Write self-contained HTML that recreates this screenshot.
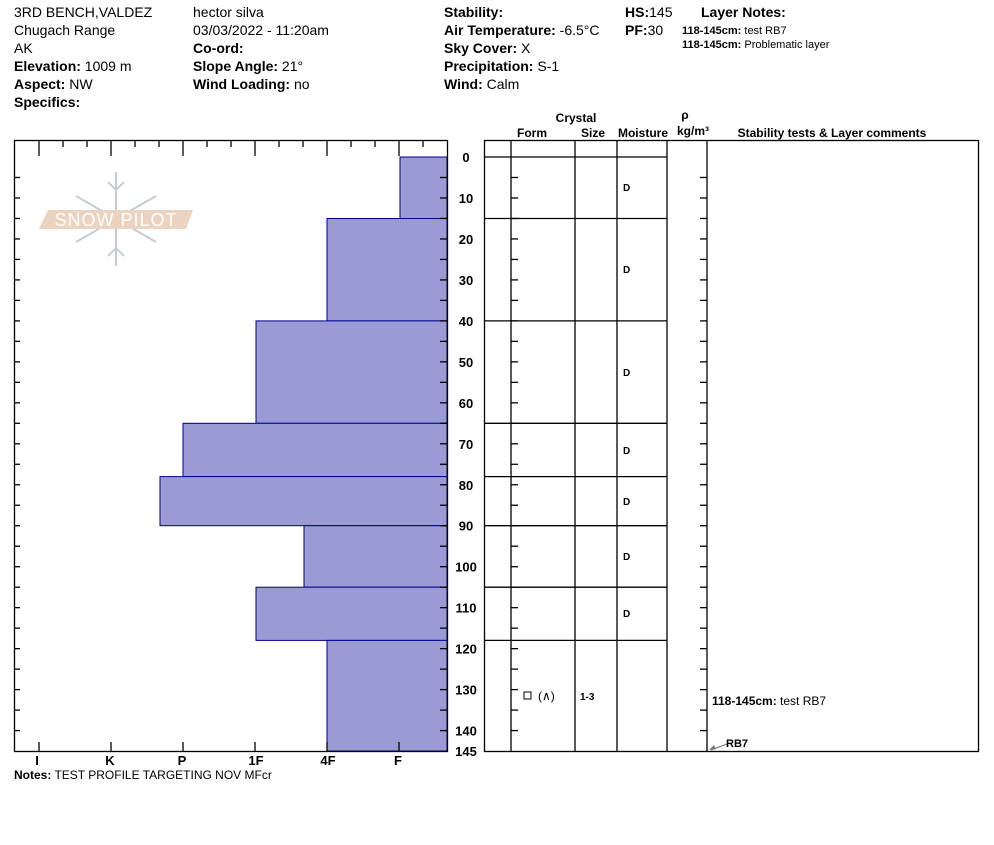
<!DOCTYPE html>
<html><head><meta charset="utf-8"><style>
body{margin:0;background:#fff;width:994px;height:840px;overflow:hidden}
svg text{font-family:"Liberation Sans",Arial,sans-serif}
.b{font-weight:bold}
</style></head><body>
<svg width="994" height="840" xmlns="http://www.w3.org/2000/svg">
<g font-size="14" fill="#000">
<text x="14" y="17">3RD BENCH,VALDEZ</text>
<text x="14" y="35">Chugach Range</text>
<text x="14" y="53">AK</text>
<text x="14" y="71"><tspan class="b">Elevation:</tspan> 1009 m</text>
<text x="14" y="89"><tspan class="b">Aspect:</tspan> NW</text>
<text x="14" y="107" class="b">Specifics:</text>
<text x="193" y="17">hector silva</text>
<text x="193" y="35">03/03/2022 - 11:20am</text>
<text x="193" y="53" class="b">Co-ord:</text>
<text x="193" y="71"><tspan class="b">Slope Angle:</tspan> 21°</text>
<text x="193" y="89"><tspan class="b">Wind Loading:</tspan> no</text>
<text x="444" y="17" class="b">Stability:</text>
<text x="444" y="35"><tspan class="b">Air Temperature:</tspan> -6.5°C</text>
<text x="444" y="53"><tspan class="b">Sky Cover:</tspan> X</text>
<text x="444" y="71"><tspan class="b">Precipitation:</tspan> S-1</text>
<text x="444" y="89"><tspan class="b">Wind:</tspan>  Calm</text>
<text x="625" y="17"><tspan class="b">HS:</tspan>145</text>
<text x="625" y="35"><tspan class="b">PF:</tspan>30</text>
<text x="701" y="17" class="b">Layer Notes:</text>
</g>
<text x="682" y="34" font-size="11"><tspan class="b">118-145cm:</tspan> test RB7</text>
<text x="682" y="48" font-size="11"><tspan class="b">118-145cm:</tspan> Problematic layer</text>

<!-- logo -->
<g stroke="#c4ccd4" stroke-width="2" fill="none">
<line x1="116" y1="172" x2="116" y2="266"/>
<line x1="76" y1="196" x2="156" y2="242"/>
<line x1="76" y1="242" x2="156" y2="196"/>
<polyline points="108,182 116,190 124,182"/>
<polyline points="108,256 116,248 124,256"/>
</g>
<polygon points="48,210 193,210 186,229 39,229" fill="#ecd3bf"/>
<text x="116" y="226" font-size="18" fill="#fff" text-anchor="middle" letter-spacing="1">SNOW PILOT</text>

<!-- bars -->
<g fill="#9a9ad4" stroke="#00008b" stroke-width="1">
<rect x="400" y="157" width="47" height="61.5"/>
<rect x="327" y="218.5" width="120" height="102.4"/>
<rect x="256" y="320.9" width="191" height="102.4"/>
<rect x="183" y="423.3" width="264" height="53.3"/>
<rect x="160" y="476.6" width="287" height="49.1"/>
<rect x="304" y="525.7" width="143" height="61.5"/>
<rect x="256" y="587.2" width="191" height="53.2"/>
<rect x="327" y="640.4" width="120" height="110.6"/>
</g>
<rect x="14.5" y="140.5" width="433" height="611" fill="none" stroke="#000" stroke-width="1.3"/>
<g stroke="#000" stroke-width="1.3">
<line x1="39" y1="140" x2="39" y2="156"/><line x1="111" y1="140" x2="111" y2="156"/><line x1="183" y1="140" x2="183" y2="156"/><line x1="255" y1="140" x2="255" y2="156"/><line x1="327" y1="140" x2="327" y2="156"/><line x1="399" y1="140" x2="399" y2="156"/>
<line x1="63" y1="140" x2="63" y2="147"/><line x1="87" y1="140" x2="87" y2="147"/><line x1="135" y1="140" x2="135" y2="147"/><line x1="159" y1="140" x2="159" y2="147"/><line x1="207" y1="140" x2="207" y2="147"/><line x1="231" y1="140" x2="231" y2="147"/><line x1="279" y1="140" x2="279" y2="147"/><line x1="303" y1="140" x2="303" y2="147"/><line x1="351" y1="140" x2="351" y2="147"/><line x1="375" y1="140" x2="375" y2="147"/><line x1="423" y1="140" x2="423" y2="147"/>
<line x1="39" y1="751" x2="39" y2="742"/><line x1="111" y1="751" x2="111" y2="742"/><line x1="183" y1="751" x2="183" y2="742"/><line x1="255" y1="751" x2="255" y2="742"/><line x1="327" y1="751" x2="327" y2="742"/><line x1="399" y1="751" x2="399" y2="742"/>
</g>
<g stroke="#000" stroke-width="1.3" id="dt"></g>
<g font-size="13" font-weight="bold" text-anchor="middle">
<text x="37" y="765">I</text><text x="110" y="765">K</text><text x="182" y="765">P</text><text x="256" y="765">1F</text><text x="328" y="765">4F</text><text x="398" y="765">F</text>
</g>
<text x="14" y="779" font-size="12"><tspan class="b">Notes:</tspan> TEST PROFILE TARGETING NOV MFcr</text>

<!-- right panel -->
<g font-size="12" font-weight="bold" text-anchor="middle">
<text x="576" y="122">Crystal</text>
<text x="532" y="137">Form</text><text x="593" y="137">Size</text><text x="643" y="137">Moisture</text>
<text x="685" y="119">ρ</text><text x="693" y="135">kg/m³</text>
<text x="832" y="137">Stability tests &amp; Layer comments</text>
</g>
<rect x="484.5" y="140.5" width="494" height="611" fill="none" stroke="#000" stroke-width="1.3"/>
<g stroke="#000" stroke-width="1.3">
<line x1="511" y1="140" x2="511" y2="751"/><line x1="575" y1="140" x2="575" y2="751"/><line x1="617" y1="140" x2="617" y2="751"/><line x1="667" y1="140" x2="667" y2="751"/><line x1="707" y1="140" x2="707" y2="751"/>
<line x1="484" y1="157" x2="667" y2="157"/><line x1="484" y1="218.5" x2="667" y2="218.5"/><line x1="484" y1="320.9" x2="667" y2="320.9"/><line x1="484" y1="423.3" x2="667" y2="423.3"/><line x1="484" y1="476.6" x2="667" y2="476.6"/><line x1="484" y1="525.7" x2="667" y2="525.7"/><line x1="484" y1="587.2" x2="667" y2="587.2"/><line x1="484" y1="640.4" x2="667" y2="640.4"/>
</g>
<g font-size="10" font-weight="bold">
<text x="623" y="191">D</text><text x="623" y="273">D</text><text x="623" y="376">D</text><text x="623" y="454">D</text><text x="623" y="505">D</text><text x="623" y="560">D</text><text x="623" y="617">D</text>
<text x="580" y="700">1-3</text>
</g>
<rect x="524" y="692" width="7" height="7" fill="none" stroke="#000"/>
<text x="538" y="700" font-size="12">(∧)</text>
<text x="712" y="705" font-size="12"><tspan class="b">118-145cm:</tspan> test RB7</text>
<line x1="727" y1="744" x2="711" y2="750" stroke="#777"/>
<polygon points="709,750 714,745 716,749" fill="#777"/>
<text x="726" y="747" font-size="11" font-weight="bold">RB7</text>
<g id="rt" stroke="#000" stroke-width="1.3"></g>
<g id="rl" font-size="13" font-weight="bold" text-anchor="middle"></g>
</svg>
<script>
var ns="http://www.w3.org/2000/svg";
function L(g,x1,y1,x2,y2){var l=document.createElementNS(ns,"line");l.setAttribute("x1",x1);l.setAttribute("y1",y1);l.setAttribute("x2",x2);l.setAttribute("y2",y2);document.getElementById(g).appendChild(l);}
function T(g,x,y,s){var t=document.createElementNS(ns,"text");t.setAttribute("x",x);t.setAttribute("y",y);t.textContent=s;document.getElementById(g).appendChild(t);}
for(var d=5;d<145;d+=5){var y=157+d*4.097;L("dt",14,y,20,y);L("dt",447,y,440,y);L("rt",511,y,518,y);L("rt",707,y,700,y);}
for(var d=0;d<=140;d+=10){T("rl",466,157+d*4.097+5,d);}
T("rl",466,756,"145");
</script>
</body></html>
